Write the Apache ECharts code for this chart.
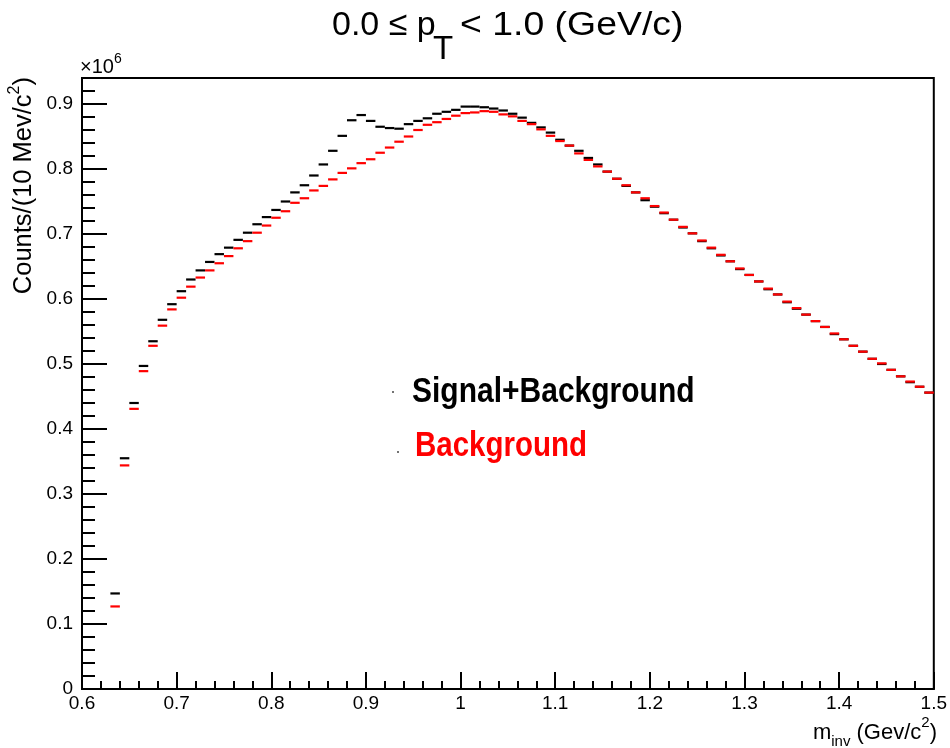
<!DOCTYPE html>
<html>
<head>
<meta charset="utf-8">
<script src="https://cdn.jsdelivr.net/npm/echarts@6/dist/echarts.min.js"></script>
<style>
html,body{margin:0;padding:0;background:#fff;}
#chart{width:950px;height:748px;}
</style>
</head>
<body>
<div id="chart"></div>
<script>
// bin centres (GeV/c^2), bin width 0.01
const binCenters = [0.635,0.645,0.655,0.665,0.675,0.685,0.695,0.705,0.715,0.725,0.735,0.745,0.755,0.765,0.775,0.785,0.795,0.805,0.815,0.825,0.835,0.845,0.855,0.865,0.875,0.885,0.895,0.905,0.915,0.925,0.935,0.945,0.955,0.965,0.975,0.985,0.995,1.005,1.015,1.025,1.035,1.045,1.055,1.065,1.075,1.085,1.095,1.105,1.115,1.125,1.135,1.145,1.155,1.165,1.175,1.185,1.195,1.205,1.215,1.225,1.235,1.245,1.255,1.265,1.275,1.285,1.295,1.305,1.315,1.325,1.335,1.345,1.355,1.365,1.375,1.385,1.395,1.405,1.415,1.425,1.435,1.445,1.455,1.465,1.475,1.485,1.495];
const binWidth = 0.01;
// counts in units of 1e6
const signalPlusBackground = [0.147,0.355,0.440,0.497,0.535,0.568,0.592,0.612,0.630,0.644,0.657,0.669,0.679,0.691,0.702,0.715,0.726,0.737,0.750,0.764,0.775,0.790,0.807,0.828,0.851,0.875,0.883,0.874,0.865,0.863,0.862,0.869,0.874,0.878,0.885,0.888,0.891,0.896,0.896,0.895,0.893,0.890,0.885,0.879,0.871,0.864,0.856,0.845,0.836,0.828,0.817,0.807,0.796,0.785,0.774,0.764,0.752,0.742,0.732,0.722,0.710,0.701,0.689,0.678,0.667,0.658,0.646,0.637,0.627,0.615,0.607,0.595,0.585,0.576,0.566,0.557,0.546,0.538,0.528,0.519,0.508,0.500,0.491,0.481,0.472,0.465,0.456];
const background = [0.127,0.344,0.431,0.489,0.528,0.559,0.584,0.602,0.619,0.633,0.644,0.655,0.666,0.678,0.689,0.702,0.713,0.725,0.735,0.748,0.755,0.767,0.774,0.784,0.794,0.801,0.809,0.815,0.825,0.833,0.842,0.850,0.860,0.868,0.872,0.877,0.882,0.886,0.887,0.889,0.888,0.884,0.881,0.874,0.869,0.861,0.851,0.843,0.836,0.824,0.814,0.804,0.796,0.785,0.775,0.764,0.755,0.743,0.733,0.722,0.711,0.701,0.690,0.679,0.668,0.658,0.647,0.637,0.627,0.616,0.607,0.596,0.586,0.576,0.566,0.557,0.547,0.538,0.528,0.519,0.508,0.501,0.491,0.481,0.473,0.465,0.456];

const xMajorTicks = [0.6,0.7,0.8,0.9,1.0,1.1,1.2,1.3,1.4,1.5];
const xMinorTicks = [0.62,0.64,0.66,0.68,0.72,0.74,0.76,0.78,0.82,0.84,0.86,0.88,0.92,0.94,0.96,0.98,1.02,1.04,1.06,1.08,1.12,1.14,1.16,1.18,1.22,1.24,1.26,1.28,1.32,1.34,1.36,1.38,1.42,1.44,1.46,1.48];
const yMajorTicks = [0,0.1,0.2,0.3,0.4,0.5,0.6,0.7,0.8,0.9];
const yMinorTicks = [0.02,0.04,0.06,0.08,0.12,0.14,0.16,0.18,0.22,0.24,0.26,0.28,0.32,0.34,0.36,0.38,0.42,0.44,0.46,0.48,0.52,0.54,0.56,0.58,0.62,0.64,0.66,0.68,0.72,0.74,0.76,0.78,0.82,0.84,0.86,0.88,0.92,0.94];

const FONT = '"Liberation Sans", Arial, Helvetica, sans-serif';
const chart = echarts.init(document.getElementById('chart'), null, {renderer:'canvas'});

function histSeries(name, values, color) {
  return {
    type: 'custom',
    name: name,
    data: binCenters.map((c, i) => [c, values[i]]),
    renderItem: function (params, api) {
      const c = api.value(0), v = api.value(1);
      const p1 = api.coord([c - binWidth / 2, v]);
      const p2 = api.coord([c + binWidth / 2, v]);
      return {
        type: 'line',
        shape: {x1: p1[0], y1: p1[1], x2: p2[0], y2: p2[1]},
        style: {stroke: color, lineWidth: 2.2}
      };
    },
    silent: true,
    animation: false
  };
}

const option = {
  backgroundColor: '#fff',
  animation: false,
  grid: {left: 82, right: 13, top: 78, bottom: 59, show: true, borderColor: '#000', borderWidth: 2, backgroundColor: 'transparent'},
  xAxis: [
    {
      type: 'value', min: 0.6, max: 1.5, position: 'bottom',
      axisLine: {show: true, onZero: false, lineStyle: {color: '#000', width: 2}},
      axisTick: {show: true, inside: true, length: 17, customValues: xMajorTicks, lineStyle: {color: '#000', width: 2}},
      axisLabel: {show: true, customValues: xMajorTicks, color: '#000', fontSize: 19, fontFamily: FONT, margin: 5},
      splitLine: {show: false}
    },
    {
      type: 'value', min: 0.6, max: 1.5, position: 'bottom', offset: 0,
      axisLine: {show: false},
      axisTick: {show: true, inside: true, length: 8, customValues: xMinorTicks, lineStyle: {color: '#000', width: 2}},
      axisLabel: {show: false},
      splitLine: {show: false}
    }
  ],
  yAxis: [
    {
      type: 'value', min: 0, max: 0.94, position: 'left',
      axisLine: {show: true, onZero: false, lineStyle: {color: '#000', width: 2}},
      axisTick: {show: true, inside: true, length: 25, customValues: yMajorTicks, lineStyle: {color: '#000', width: 2}},
      axisLabel: {show: true, customValues: yMajorTicks, color: '#000', fontSize: 19, fontFamily: FONT, margin: 9},
      splitLine: {show: false}
    },
    {
      type: 'value', min: 0, max: 0.94, position: 'left', offset: 0,
      axisLine: {show: false},
      axisTick: {show: true, inside: true, length: 13, customValues: yMinorTicks, lineStyle: {color: '#000', width: 2}},
      axisLabel: {show: false},
      splitLine: {show: false}
    }
  ],
  series: [
    histSeries('Signal+Background', signalPlusBackground, '#000000'),
    histSeries('Background', background, '#ff0000')
  ],
  graphic: [
    {type: 'text', x: 332, y: 25.5, silent: true,
      style: {text: '0.0 \u2264 p', fontSize: 34, fontFamily: FONT, fill: '#000', align: 'left', verticalAlign: 'middle'}},
    {type: 'text', x: 433, y: 49.5, silent: true,
      style: {text: 'T', fontSize: 33, fontFamily: FONT, fill: '#000', align: 'left', verticalAlign: 'middle'}},
    {type: 'text', x: 460, y: 25.5, scaleX: 1.1, silent: true,
      style: {text: '< 1.0 (GeV/c)', fontSize: 34, fontFamily: FONT, fill: '#000', align: 'left', verticalAlign: 'middle'}},
    {type: 'text', x: 80, y: 67, silent: true,
      style: {text: '{a|\u00d710}{s|6}', align: 'left', verticalAlign: 'middle',
        rich: {a: {fontSize: 20, fontFamily: FONT, fill: '#000', lineHeight: 30},
               s: {fontSize: 14, fontFamily: FONT, fill: '#000', lineHeight: 14, verticalAlign: 'top'}}}},
    {type: 'text', x: 23.5, y: 77, rotation: Math.PI / 2, silent: true,
      style: {text: '{a|Counts/(10 Mev/c}{s|2}{a|)}', align: 'right', verticalAlign: 'middle',
        rich: {a: {fontSize: 25.5, fontFamily: FONT, fill: '#000', lineHeight: 33},
               s: {fontSize: 16, fontFamily: FONT, fill: '#000', lineHeight: 16, verticalAlign: 'top'}}}},
    {type: 'text', x: 937, y: 732.5, silent: true,
      style: {text: '{a|m}{b|inv}{a| (Gev/c}{s|2}{a|)}', align: 'right', verticalAlign: 'middle',
        rich: {a: {fontSize: 22, fontFamily: FONT, fill: '#000', lineHeight: 34},
               b: {fontSize: 15, fontFamily: FONT, fill: '#000', lineHeight: 16, verticalAlign: 'bottom'},
               s: {fontSize: 15, fontFamily: FONT, fill: '#000', lineHeight: 16, verticalAlign: 'top'}}}},
    {type: 'circle', shape: {cx: 393, cy: 392, r: 1}, style: {fill: '#444'}, silent: true},
    {type: 'circle', shape: {cx: 398, cy: 452, r: 1}, style: {fill: '#444'}, silent: true},
    {type: 'text', x: 412, y: 392.5, scaleY: 1.16, silent: true,
      style: {text: 'Signal+Background', fontSize: 30, fontWeight: 'bold', fontFamily: FONT, fill: '#000', align: 'left', verticalAlign: 'middle'}},
    {type: 'text', x: 415, y: 447, scaleY: 1.16, silent: true,
      style: {text: 'Background', fontSize: 29.5, fontWeight: 'bold', fontFamily: FONT, fill: '#ff0000', align: 'left', verticalAlign: 'middle'}}
  ]
};
chart.setOption(option);
</script>
</body>
</html>
